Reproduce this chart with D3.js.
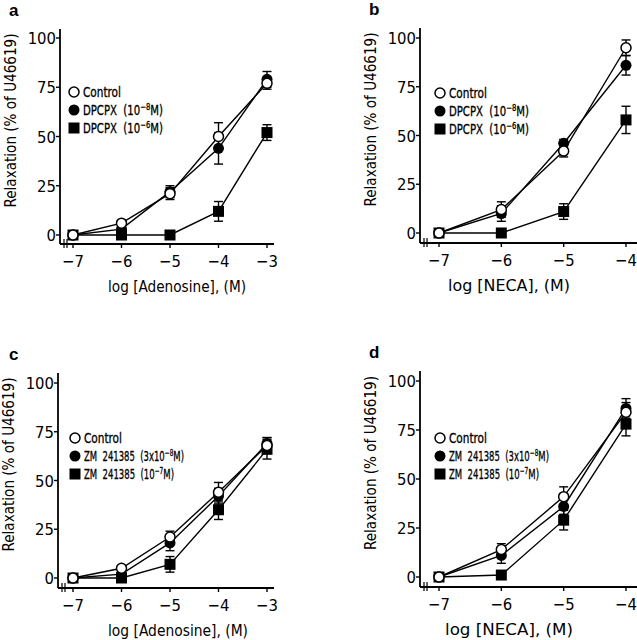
<!DOCTYPE html>
<html>
<head>
<meta charset="utf-8">
<script src="https://cdn.jsdelivr.net/npm/d3@7.9.0/dist/d3.min.js"></script>
<style>
  body { margin: 0; background: #fff; }
  svg { display: block; font-family: "DejaVu Sans Condensed", "Liberation Sans Narrow", "Liberation Sans", sans-serif; }
</style>
</head>
<body>
<svg id="chart" width="637" height="640"></svg>
<script>
// x values (log molar)
const xAdenosine = [-7, -6, -5, -4, -3];
const xNeca = [-7, -6, -5, -4];
const yTicks = [0, 25, 50, 75, 100];

// panel a: adenosine + DPCPX
const aControl = [0, 6, 21, 50, 77];
const aControlErr = [0, 0, 3, 7, 3];
const aDpcpx8 = [0, 3, 22, 44, 79];
const aDpcpx8Err = [0, 0, 3, 8, 4];
const aDpcpx6 = [0, 0, 0, 12, 52];
const aDpcpx6Err = [0, 0, 0, 5, 4];

// panel b: NECA + DPCPX
const bControl = [0, 12, 42, 95];
const bControlErr = [0, 4, 3, 4];
const bDpcpx8 = [0, 10, 46, 86];
const bDpcpx8Err = [0, 4, 2, 5];
const bDpcpx6 = [0, 0, 11, 58];
const bDpcpx6Err = [0, 0, 4, 7];

// panel c: adenosine + ZM 241385
const cControl = [0, 5, 21, 44, 68];
const cControlErr = [0, 0, 3, 5, 4];
const cZm8 = [0, 2, 18, 42, 69];
const cZm8Err = [0, 0, 4, 4, 3];
const cZm7 = [0, 0, 7, 35, 66];
const cZm7Err = [0, 0, 4, 5, 5];

// panel d: NECA + ZM 241385
const dControl = [0, 14, 41, 84];
const dControlErr = [0, 3, 5, 5];
const dZm8 = [0, 11, 36, 86];
const dZm8Err = [0, 4, 4, 5];
const dZm7 = [0, 1, 29, 78];
const dZm7Err = [0, 0, 5, 6];

const svg = d3.select('#chart');

// legend text pieces: [prefix, exponent, suffix] and target width
const legendDpcpx = [[['Control'], 38], [['DPCPX  (10', '\u22128', 'M)'], 80], [['DPCPX  (10', '\u22126', 'M)'], 80]];
const legendZm = [[['Control'], 38], [['ZM  241385  (3x10', '\u22128', 'M)'], 100], [['ZM  241385  (10', '\u22127', 'M)'], 90]];

const panels = [
  { label: 'a', lx: 9, ax: 60, yTop: 29, x0: 73, x1: 267, y0: 235, y100: 38, axisY: 244, xEnd: 274,
    xs: xAdenosine, xTitle: 'log [Adenosine], (M)', titleX: 177, titleW: 138, legend: legendDpcpx, legX: 74, legY: 92,
    series: [[aDpcpx6, aDpcpx6Err], [aDpcpx8, aDpcpx8Err], [aControl, aControlErr]] },
  { label: 'b', lx: 369, ax: 420, yTop: 28, x0: 439, x1: 626, y0: 233, y100: 38, axisY: 243, xEnd: 637,
    xs: xNeca, xTitle: 'log [NECA], (M)', titleX: 509, titleW: 122, legend: legendDpcpx, legX: 440, legY: 93,
    series: [[bDpcpx6, bDpcpx6Err], [bDpcpx8, bDpcpx8Err], [bControl, bControlErr]] },
  { label: 'c', lx: 9, ax: 58, yTop: 373, x0: 73, x1: 267, y0: 578, y100: 383, axisY: 588, xEnd: 274,
    xs: xAdenosine, xTitle: 'log [Adenosine], (M)', titleX: 178, titleW: 140, legend: legendZm, legX: 75, legY: 438,
    series: [[cZm7, cZm7Err], [cZm8, cZm8Err], [cControl, cControlErr]] },
  { label: 'd', lx: 369, ax: 420, yTop: 371, x0: 439, x1: 626, y0: 577, y100: 381, axisY: 587, xEnd: 637,
    xs: xNeca, xTitle: 'log [NECA], (M)', titleX: 509, titleW: 128, legend: legendZm, legX: 440, legY: 438,
    series: [[dZm7, dZm7Err], [dZm8, dZm8Err], [dControl, dControlErr]] }
];

// marker kinds match series order: square, filled circle, open circle
const kinds = ['square', 'filled', 'open'];

function drawMarker(g, kind, cx, cy) {
  if (kind === 'square') {
    g.append('rect').attr('x', cx - 5.5).attr('y', cy - 5.5).attr('width', 11).attr('height', 11).attr('fill', '#000');
  } else if (kind === 'filled') {
    g.append('circle').attr('cx', cx).attr('cy', cy).attr('r', 5.5).attr('fill', '#000');
  } else {
    g.append('circle').attr('cx', cx).attr('cy', cy).attr('r', 5).attr('fill', '#fff').attr('stroke', '#000').attr('stroke-width', 1.5);
  }
}

panels.forEach(p => {
  const g = svg.append('g');
  const x = d3.scaleLinear().domain([p.xs[0], p.xs[p.xs.length - 1]]).range([p.x0, p.x1]);
  const y = d3.scaleLinear().domain([0, 100]).range([p.y0, p.y100]);

  // panel letter
  g.append('text').attr('x', p.lx).attr('y', p.yTop - 13)
    .attr('font-family', 'Liberation Sans, Arial, sans-serif')
    .attr('font-weight', 'bold').attr('font-size', 17).text(p.label);

  // y axis
  g.append('line').attr('x1', p.ax).attr('x2', p.ax).attr('y1', p.yTop).attr('y2', p.axisY)
    .attr('stroke', '#000').attr('stroke-width', 1.8);
  yTicks.forEach(t => {
    g.append('line').attr('x1', p.ax - 4).attr('x2', p.ax).attr('y1', y(t)).attr('y2', y(t))
      .attr('stroke', '#000').attr('stroke-width', 1.4);
    g.append('text').attr('x', p.ax - 4).attr('y', y(t) + 6).attr('text-anchor', 'end')
      .attr('font-size', 16.5).text(t);
  });

  // x axis with break
  g.append('line').attr('x1', p.ax).attr('x2', p.xEnd).attr('y1', p.axisY).attr('y2', p.axisY)
    .attr('stroke', '#000').attr('stroke-width', 1.8);
  [p.ax + 4, p.ax + 7].forEach(bx => {
    g.append('line').attr('x1', bx).attr('x2', bx).attr('y1', p.axisY - 5).attr('y2', p.axisY + 4)
      .attr('stroke', '#000').attr('stroke-width', 1.2);
  });
  p.xs.forEach(t => {
    g.append('line').attr('x1', x(t)).attr('x2', x(t)).attr('y1', p.axisY).attr('y2', p.axisY + 4)
      .attr('stroke', '#000').attr('stroke-width', 1.4);
    g.append('text').attr('x', x(t)).attr('y', p.axisY + 23).attr('text-anchor', 'middle')
      .attr('font-size', 16.5).text('\u2212' + Math.abs(t));
  });

  // axis titles
  g.append('text').attr('x', p.titleX).attr('y', p.axisY + 48)
    .attr('text-anchor', 'middle').attr('font-size', 16.5)
    .attr('textLength', p.titleW).attr('lengthAdjust', 'spacingAndGlyphs').text(p.xTitle);
  g.append('text')
    .attr('transform', `translate(${p.ax - 44},${(p.yTop + p.axisY) / 2 - 16}) rotate(-90)`)
    .attr('text-anchor', 'middle').attr('font-size', 16.5)
    .attr('textLength', 174).attr('lengthAdjust', 'spacingAndGlyphs').text('Relaxation (% of U46619)');

  // connecting lines
  const line = d3.line().x((d, i) => x(p.xs[i])).y(d => y(d));
  p.series.forEach(([vals]) => {
    g.append('path').attr('d', line(vals)).attr('fill', 'none').attr('stroke', '#000').attr('stroke-width', 1.4);
  });

  // error bars
  p.series.forEach(([vals, errs]) => {
    vals.forEach((v, i) => {
      if (!errs[i]) return;
      const cx = x(p.xs[i]);
      g.append('line').attr('x1', cx).attr('x2', cx).attr('y1', y(v - errs[i])).attr('y2', y(v + errs[i]))
        .attr('stroke', '#000').attr('stroke-width', 1.4);
      [v - errs[i], v + errs[i]].forEach(e => {
        g.append('line').attr('x1', cx - 4.5).attr('x2', cx + 4.5).attr('y1', y(e)).attr('y2', y(e))
          .attr('stroke', '#000').attr('stroke-width', 1.4);
      });
    });
  });

  // markers
  p.series.forEach(([vals], si) => {
    vals.forEach((v, i) => drawMarker(g, kinds[si], x(p.xs[i]), y(v)));
  });

  // legend: rows are control, filled circle, square
  const legKinds = ['open', 'filled', 'square'];
  p.legend.forEach(([parts, w], i) => {
    const ly = p.legY + i * 18;
    drawMarker(g, legKinds[i], p.legX, ly);
    const row = g.append('g');
    let cur = 0;
    parts.forEach((s, k) => {
      const sup = k === 1;
      const t = row.append('text').attr('x', cur).attr('y', sup ? -5 : 0)
        .attr('font-size', sup ? 9.5 : 14)
        .attr('stroke', '#000').attr('stroke-width', 0.3)
        .attr('xml:space', 'preserve').style('white-space', 'pre').text(s);
      cur += t.node().getComputedTextLength();
    });
    row.attr('transform', `translate(${p.legX + 9},${ly + 5}) scale(${w / cur},1)`);
  });
});
</script>
</body>
</html>
